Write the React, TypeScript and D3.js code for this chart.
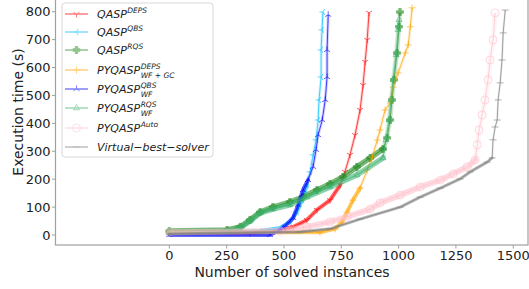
import React from 'react';
import * as d3 from 'd3';

// cactus plot: [solved instances, execution time (s)]
const qaspDeps: [number, number][] = [
  [0, 7], [352, 7], [483, 18], [540, 29], [600, 54], [644, 90], [701, 125], [745, 179],
  [766, 226], [788, 287], [810, 358], [832, 448], [845, 537], [854, 620], [863, 699], [871, 796],
];
const qaspQbs: [number, number][] = [
  [0, 10], [396, 14], [483, 25], [526, 47], [556, 82], [579, 125], [600, 179], [614, 226],
  [627, 287], [640, 341], [649, 412], [653, 484], [662, 566], [662, 663], [666, 735], [670, 799],
];
const qaspRqs: [number, number][] = [
  [0, 14], [252, 18], [309, 29], [352, 54], [396, 82], [452, 100], [526, 118], [583, 136],
  [644, 161], [701, 183], [757, 208], [818, 244], [876, 276], [932, 308], [950, 348], [963, 412],
  [971, 484], [980, 556], [993, 652], [1002, 746], [1006, 799],
];
const pyDepsWfGc: [number, number][] = [
  [0, 10], [657, 10], [723, 22], [753, 47], [775, 82], [801, 125], [832, 168], [863, 233],
  [885, 279], [907, 340], [919, 376], [941, 448], [963, 473], [976, 530], [998, 581], [1029, 652],
  [1042, 681], [1051, 746], [1059, 814],
];
const pyQbsWf: [number, number][] = [
  [0, 0], [439, 0], [496, 25], [540, 61], [562, 108], [583, 161], [605, 197], [627, 244],
  [640, 305], [649, 358], [667, 412], [680, 484], [688, 566], [688, 663], [693, 789],
];
const pyRqsWf: [number, number][] = [
  [0, 10], [252, 14], [309, 25], [352, 50], [396, 79], [452, 93], [526, 108], [600, 136],
  [701, 172], [818, 215], [932, 276], [945, 341], [958, 412], [967, 484], [976, 556], [989, 645],
  [998, 735], [1002, 771],
];
const pyAuto: [number, number][] = [
  [0, 10], [483, 14], [600, 29], [701, 47], [775, 65], [876, 93], [919, 115], [1007, 143],
  [1094, 172], [1182, 197], [1238, 219], [1299, 244], [1334, 269], [1343, 323], [1351, 376],
  [1364, 430], [1377, 484], [1390, 556], [1399, 627], [1412, 699], [1421, 796],
];
const vbs: [number, number][] = [
  [0, 4], [570, 11], [701, 22], [832, 57], [1007, 100], [1094, 136], [1182, 168], [1268, 201],
  [1312, 226], [1386, 261], [1408, 276], [1412, 341], [1421, 387], [1430, 412], [1434, 484],
  [1443, 545], [1451, 627], [1456, 724], [1465, 806],
];

const xTicks = [0, 250, 500, 750, 1000, 1250, 1500];
const yTicks = [0, 100, 200, 300, 400, 500, 600, 700, 800];

type Marker = 'tri_down' | 'tri_up' | 'tri_left' | 'plus' | 'P' | 'triangle' | 'circle' | 'hline';

// dense = number of leading points where markers overlap into a solid band
const series = [
  { label: 'QASP', sup: 'DEPS', sub: '', color: '#ff0000', marker: 'tri_down' as Marker, band: 4, dense: 8, data: qaspDeps },
  { label: 'QASP', sup: 'QBS', sub: '', color: '#00bfff', marker: 'tri_left' as Marker, band: 4, dense: 7, data: qaspQbs },
  { label: 'QASP', sup: 'RQS', sub: '', color: '#228b22', marker: 'P' as Marker, band: 5.5, dense: 14, data: qaspRqs },
  { label: 'PYQASP', sup: 'DEPS', sub: 'WF + GC', color: '#ffa500', marker: 'plus' as Marker, band: 4, dense: 7, data: pyDepsWfGc },
  { label: 'PYQASP', sup: 'QBS', sub: 'WF', color: '#0000ff', marker: 'tri_up' as Marker, band: 4, dense: 7, data: pyQbsWf },
  { label: 'PYQASP', sup: 'RQS', sub: 'WF', color: '#3cb371', marker: 'triangle' as Marker, band: 5.5, dense: 11, data: pyRqsWf },
  { label: 'PYQASP', sup: 'Auto', sub: '', color: '#ffc0cb', marker: 'circle' as Marker, band: 6, dense: 13, data: pyAuto },
  { label: 'Virtual\u2212best\u2212solver', sup: '', sub: '', color: '#808080', marker: 'hline' as Marker, band: 3, dense: 11, data: vbs },
];

const W = 529;
const H = 289;
const left = 55.5, right = 528, top = -1, bottom = 245;

const x = d3.scaleLinear().domain([-496.3, 1564.3]).range([left, right]);
const y = d3.scaleLinear().domain([-35.8, 845.5]).range([bottom, top]);

function markerPath(m: Marker, s: number): string {
  const a = 0.866 * s, b = 0.5 * s;
  switch (m) {
    case 'tri_down': return `M0,0L0,${s}M0,0L${-a},${-b}M0,0L${a},${-b}`;
    case 'tri_up': return `M0,0L0,${-s}M0,0L${-a},${b}M0,0L${a},${b}`;
    case 'tri_left': return `M0,0L${-s},0M0,0L${b},${-a}M0,0L${b},${a}`;
    case 'plus': return `M${-s},0L${s},0M0,${-s}L0,${s}`;
    case 'P': {
      const t = s * 0.35;
      return `M${-t},${-s}L${t},${-s}L${t},${-t}L${s},${-t}L${s},${t}L${t},${t}L${t},${s}L${-t},${s}L${-t},${t}L${-s},${t}L${-s},${-t}L${-t},${-t}Z`;
    }
    case 'triangle': return `M0,${-s}L${a},${b}L${-a},${b}Z`;
    case 'circle': return `M${s},0A${s},${s} 0 1,1 ${-s},0A${s},${s} 0 1,1 ${s},0Z`;
    case 'hline': return `M${-s},0L${s},0`;
  }
}

function MarkerGlyph({ m, color, cx, cy, s = 3.5 }: { m: Marker; color: string; cx: number; cy: number; s?: number }) {
  const filled = m === 'P';
  const size = m === 'circle' ? 4 : s;
  return (
    <path
      d={markerPath(m, size)}
      transform={`translate(${cx},${cy})`}
      fill={filled ? color : 'none'}
      stroke={color}
      strokeWidth={1}
    />
  );
}

let ctx: CanvasRenderingContext2D | null = null;
function textWidth(txt: string, font: string) {
  if (!ctx) ctx = document.createElement('canvas').getContext('2d');
  if (!ctx) return txt.length * 6;
  ctx.font = font;
  return ctx.measureText(txt).width;
}

const FONT = 'DejaVu Sans, sans-serif';

export default function App() {
  const line = d3.line<[number, number]>().x((d) => x(d[0])).y((d) => y(d[1]));
  const legendRows = [14, 32, 50, 70, 89, 108, 128, 147];

  return (
    <svg width={W} height={H} style={{ position: 'absolute', left: 0, top: 0 }} fontFamily={FONT}>
      <rect x={0} y={0} width={W} height={H} fill="#fff" />
      <defs>
        <clipPath id="plot">
          <rect x={left} y={top} width={right - left} height={bottom - top} />
        </clipPath>
      </defs>

      {/* series */}
      <g clipPath="url(#plot)">
        {series.map((s, i) => (
          <g key={i}>
            <path d={line(s.data.slice(0, s.dense)) || ''} fill="none" stroke={s.color} strokeWidth={s.band} strokeOpacity={0.6} strokeLinejoin="round" strokeLinecap="round" />
            <path d={line(s.data.slice(s.dense - 1)) || ''} fill="none" stroke={s.color} strokeWidth={s.band - 1} strokeOpacity={0.18} strokeLinejoin="round" />
            <path d={line(s.data) || ''} fill="none" stroke={s.color} strokeWidth={1} strokeOpacity={0.7} />
            <g opacity={0.6}>
              {s.data.map((d, j) => (
                <MarkerGlyph key={j} m={s.marker} color={s.color} cx={x(d[0])} cy={y(d[1])} />
              ))}
            </g>
          </g>
        ))}
      </g>

      {/* frame */}
      <rect x={left} y={top} width={right - left} height={bottom - top} fill="none" stroke="#a0a0a0" strokeWidth={1.2} />

      {/* y axis */}
      {yTicks.map((t) => (
        <g key={t}>
          <line x1={left - 3.5} x2={left} y1={y(t)} y2={y(t)} stroke="#a0a0a0" />
          <text x={left - 5} y={y(t)} dy="0.35em" textAnchor="end" fontSize={13} fill="#222">{t}</text>
        </g>
      ))}
      <text transform={`translate(18,${(top + bottom) / 2 - 10}) rotate(-90)`} textAnchor="middle" dy="0.35em" fontSize={14} fill="#222">
        Execution time (s)
      </text>

      {/* x axis */}
      {xTicks.map((t) => (
        <g key={t}>
          <line x1={x(t)} x2={x(t)} y1={bottom} y2={bottom + 3.5} stroke="#a0a0a0" />
          <text x={x(t)} y={bottom + 15} textAnchor="middle" fontSize={13} fill="#222">{t}</text>
        </g>
      ))}
      <text x={292} y={277} textAnchor="middle" fontSize={14} fill="#222">Number of solved instances</text>

      {/* legend */}
      <rect x={62} y={3} width={151} height={154} rx={3} fill="#fff" fillOpacity={0.85} stroke="#d8d8d8" />
      {series.map((s, i) => {
        const cy = legendRows[i];
        const mainFont = `italic 11px ${FONT}`;
        const w = textWidth(s.label, mainFont);
        const tx = 97;
        return (
          <g key={i}>
            <g opacity={0.5}>
              <line x1={65} x2={88} y1={cy} y2={cy} stroke={s.color} strokeWidth={1.5} />
              <MarkerGlyph m={s.marker} color={s.color} cx={76.5} cy={cy} />
            </g>
            <text x={tx} y={cy + 4} fontSize={11} fontStyle="italic" fill="#222">{s.label}</text>
            {s.sup && (
              <text x={tx + w + 0.5} y={cy - 1} fontSize={7.5} fontStyle="italic" fill="#222">{s.sup}</text>
            )}
            {s.sub && (
              <text x={tx + w + 0.5} y={cy + 8} fontSize={7.5} fontStyle="italic" fill="#222">{s.sub}</text>
            )}
          </g>
        );
      })}
    </svg>
  );
}
